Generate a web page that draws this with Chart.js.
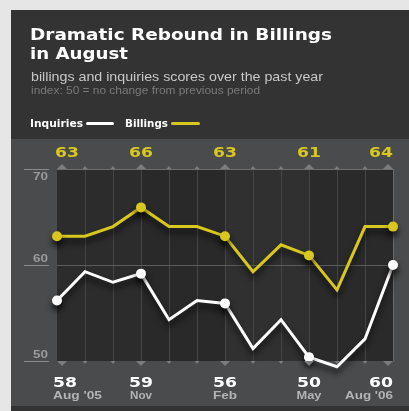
<!DOCTYPE html>
<html>
<head>
<meta charset="utf-8">
<script src="https://cdn.jsdelivr.net/npm/chart.js@4"></script>
<style>
  html, body { margin: 0; padding: 0; background: #e6e6e6; }
  canvas { display: block; }
</style>
</head>
<body>
<canvas id="billingsChart" width="409" height="411"></canvas>
<script>
// data
const months = ["Aug '05", "Sep", "Oct", "Nov", "Dec", "Jan", "Feb", "Mar", "Apr", "May", "Jun", "Jul", "Aug '06"];
const billings = [63, 63, 64, 66, 64, 64, 63, 59.3, 62.1, 61, 57.4, 64, 64];
const inquiries = [56.3, 59.3, 58.2, 59.1, 54.3, 56.3, 56, 51.3, 54.3, 50.4, 49.4, 52.3, 60];
const labelIdx = [0, 3, 6, 9, 12];
const billingsLabels = ["63", "66", "63", "61", "64"];
const inquiriesLabels = ["58", "59", "56", "50", "60"];
const monthLabels = ["Aug '05", "Nov", "Feb", "May", "Aug '06"];
const yTicks = [50, 60, 70];

const YELLOW = '#d8c71f';
const SANS = '"Liberation Sans", Arial, sans-serif';
const HEAVY = '"DejaVu Sans", "Liberation Sans", sans-serif';

// text squeezed / stretched to a width
const txt = (ctx, s, x, y, font, color, w, align) => {
  ctx.save();
  ctx.font = font;
  ctx.fillStyle = color;
  ctx.textBaseline = 'alphabetic';
  const m = ctx.measureText(s).width;
  const k = w ? w / m : 1;
  const tw = m * k;
  let left = x;
  if (align === 'center') left = x - tw / 2;
  if (align === 'right') left = x - tw;
  ctx.translate(left, y);
  ctx.scale(k, 1);
  ctx.textAlign = 'left';
  ctx.fillText(s, 0, 0);
  ctx.restore();
};

const tri = (ctx, x, y, w, h, up) => {
  ctx.beginPath();
  ctx.moveTo(x - w / 2, y);
  ctx.lineTo(x + w / 2, y);
  ctx.lineTo(x, up ? y - h : y + h);
  ctx.closePath();
  ctx.fill();
};

const backdrop = {
  id: 'backdrop',
  beforeDraw(chart) {
    const { ctx, chartArea: a, scales: { x, y } } = chart;
    ctx.save();
    // frame and panels
    ctx.fillStyle = '#e6e6e6';
    ctx.fillRect(0, 0, 409, 411);
    ctx.fillStyle = '#333333';
    ctx.fillRect(11, 10, 398, 129);
    ctx.fillStyle = '#4a4b4d';
    ctx.fillRect(11, 139, 398, 267);
    ctx.fillStyle = '#333333';
    ctx.fillRect(11, 406, 398, 5);

    // plot background, quarter bands
    const bands = ['#2c2c2c', '#292929', '#303030', '#2a2a2a'];
    for (let i = 0; i < 4; i++) {
      const x0 = x.getPixelForValue(i * 3);
      const x1 = x.getPixelForValue(i * 3 + 3);
      ctx.fillStyle = bands[i];
      ctx.fillRect(x0, a.top, x1 - x0, a.bottom - a.top);
    }
    // vertical grid
    ctx.strokeStyle = '#464646';
    ctx.lineWidth = 1;
    for (let i = 1; i < months.length; i++) {
      const px = Math.round(x.getPixelForValue(i)) + 0.5;
      ctx.beginPath();
      ctx.moveTo(px, a.top);
      ctx.lineTo(px, a.bottom);
      ctx.stroke();
    }
    // right edge
    ctx.strokeStyle = '#6a6a6a';
    ctx.beginPath();
    ctx.moveTo(Math.round(a.right) + 0.5, a.top);
    ctx.lineTo(Math.round(a.right) + 0.5, a.bottom);
    ctx.stroke();
    // 60 line and top border
    ctx.strokeStyle = '#5c5c5c';
    const y60 = Math.round(y.getPixelForValue(60)) + 0.5;
    ctx.beginPath();
    ctx.moveTo(a.left, y60);
    ctx.lineTo(a.right, y60);
    ctx.stroke();
    ctx.strokeStyle = '#6e6e6e';
    ctx.beginPath();
    ctx.moveTo(a.left, Math.round(a.top) + 0.5);
    ctx.lineTo(a.right, Math.round(a.top) + 0.5);
    ctx.stroke();
    ctx.restore();
  },
  beforeDatasetsDraw(chart) {
    const ctx = chart.ctx;
    ctx.save();
    ctx.shadowColor = 'rgba(0,0,0,0.75)';
    ctx.shadowBlur = 6;
    ctx.shadowOffsetY = 5;
  },
  afterDatasetsDraw(chart) {
    chart.ctx.restore();
  },
  afterDraw(chart) {
    const { ctx, chartArea: a, scales: { x, y } } = chart;
    ctx.save();
    // title block
    txt(ctx, 'Dramatic Rebound in Billings', 30, 40, 'bold 15px ' + HEAVY, '#ffffff', 302);
    txt(ctx, 'in August', 30, 59, 'bold 15px ' + HEAVY, '#ffffff', 98);
    txt(ctx, 'billings and inquiries scores over the past year', 31, 81, '13px ' + SANS, '#c8c8c8', 292);
    txt(ctx, 'index: 50 = no change from previous period', 31, 94, '10px ' + SANS, '#7a7a7a', 229);

    // legend
    txt(ctx, 'Inquiries', 30, 127, 'bold 10px ' + HEAVY, '#ffffff', 53);
    ctx.fillStyle = '#ffffff';
    ctx.beginPath();
    ctx.roundRect(86, 122, 28, 3, 1.5);
    ctx.fill();
    txt(ctx, 'Billings', 125, 127, 'bold 10px ' + HEAVY, '#ffffff', 43);
    ctx.fillStyle = YELLOW;
    ctx.beginPath();
    ctx.roundRect(171, 122, 29, 3, 1.5);
    ctx.fill();

    // y labels with underlines
    yTicks.forEach(v => {
      const py = Math.round(y.getPixelForValue(v));
      ctx.strokeStyle = '#8a8a8a';
      ctx.lineWidth = 1;
      ctx.beginPath();
      ctx.moveTo(24, py + 0.5);
      ctx.lineTo(49, py + 0.5);
      ctx.stroke();
      const base = v === 70 ? py + 11 : py - 3;
      txt(ctx, String(v), 48, base, 'bold 10px ' + SANS, '#9a9a9a', 15, 'right');
    });

    // tick triangles
    ctx.fillStyle = '#7c7c7c';
    months.forEach((m, i) => {
      const px = x.getPixelForValue(i);
      const big = labelIdx.includes(i);
      const w = big ? 10 : 5;
      const h = big ? 5 : 3;
      const xx = i === 0 ? px + w / 2 : (i === months.length - 1 ? px - w / 2 : px);
      tri(ctx, xx, a.top, w, h, true);
      tri(ctx, xx, a.bottom, w, h, false);
    });

    // value labels
    labelIdx.forEach((idx, k) => {
      const px = x.getPixelForValue(idx);
      let align = 'center';
      let ax = px;
      if (idx === 0) { align = 'left'; ax = px - 4; }
      if (idx === months.length - 1) { align = 'right'; ax = px; }
      txt(ctx, billingsLabels[k], idx === 0 ? px - 2 : ax, 157, 'bold 14px ' + HEAVY, YELLOW, 24, align);
      txt(ctx, inquiriesLabels[k], ax, 387, 'bold 14px ' + HEAVY, '#ffffff', 24, align);
      const mw = { "Aug '05": 49, 'Nov': 22, 'Feb': 24, 'May': 25, "Aug '06": 48 }[monthLabels[k]];
      txt(ctx, monthLabels[k], ax, 399, 'bold 10px ' + SANS, '#b4b4b4', mw, align);
    });
    ctx.restore();
  }
};

const pointSizes = months.map((m, i) => labelIdx.includes(i) ? 5 : 0);

new Chart(document.getElementById('billingsChart'), {
  type: 'line',
  data: {
    labels: months,
    datasets: [
      {
        label: 'Billings',
        data: billings,
        borderColor: YELLOW,
        backgroundColor: YELLOW,
        borderWidth: 3,
        pointRadius: pointSizes,
        pointBorderWidth: 0,
        tension: 0,
        clip: false
      },
      {
        label: 'Inquiries',
        data: inquiries,
        borderColor: '#ffffff',
        backgroundColor: '#ffffff',
        borderWidth: 3,
        pointRadius: pointSizes,
        pointBorderWidth: 0,
        tension: 0,
        clip: false
      }
    ]
  },
  options: {
    responsive: false,
    devicePixelRatio: 1,
    animation: false,
    layout: { padding: { left: 57, right: 16, top: 169, bottom: 50 } },
    plugins: { legend: { display: false }, tooltip: { enabled: false } },
    scales: {
      x: { type: 'category', display: false, offset: false },
      y: { display: false, min: 50, max: 70 }
    }
  },
  plugins: [backdrop]
});
</script>
</body>
</html>
